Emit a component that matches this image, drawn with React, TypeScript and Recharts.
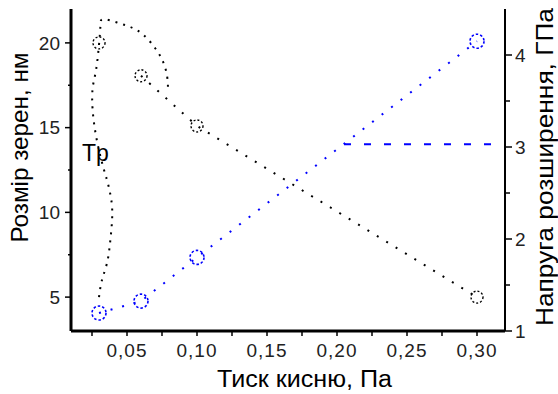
import React from 'react';
import { ComposedChart, Line, Scatter, XAxis, YAxis, ReferenceDot } from 'recharts';

// Grain size markers (left axis, nm)
const grainPoints = [
  { x: 0.03, y: 20.0 },
  { x: 0.06, y: 18.06 },
  { x: 0.10, y: 15.1 },
  { x: 0.30, y: 5.0 },
];
// Grain size trend line
const grainLine = [
  { x: 0.06, y: 18.06 },
  { x: 0.10, y: 15.1 },
  { x: 0.30, y: 5.0 },
];
// "Tp" boundary curve (left axis)
const tpCurve = [
  { x: 0.030, y: 5.0 },
  { x: 0.0321, y: 6.0 },
  { x: 0.0357, y: 7.0 },
  { x: 0.0379, y: 8.2 },
  { x: 0.0393, y: 9.5 },
  { x: 0.0390, y: 10.6 },
  { x: 0.0364, y: 11.7 },
  { x: 0.0336, y: 12.5 },
  { x: 0.0286, y: 14.2 },
  { x: 0.0255, y: 16.0 },
  { x: 0.0255, y: 17.35 },
  { x: 0.0279, y: 18.4 },
  { x: 0.0300, y: 19.9 },
  { x: 0.0310, y: 21.0 },
  { x: 0.0330, y: 21.4 },
  { x: 0.0429, y: 21.2 },
  { x: 0.0521, y: 20.95 },
  { x: 0.0614, y: 20.5 },
  { x: 0.0700, y: 19.7 },
  { x: 0.0757, y: 18.9 },
  { x: 0.0786, y: 18.06 },
  { x: 0.0793, y: 17.3 },
];
// Stress markers (right axis, GPa)
const stressPoints = [
  { x: 0.03, y: 1.195 },
  { x: 0.06, y: 1.325 },
  { x: 0.10, y: 1.8 },
  { x: 0.30, y: 4.15 },
];
const stressLine = [
  { x: 0.03, y: 1.195 },
  { x: 0.06, y: 1.325 },
  { x: 0.10, y: 1.8 },
  { x: 0.30, y: 4.15 },
];
const stressFlat = [
  { x: 0.205, y: 3.03 },
  { x: 0.32, y: 3.03 },
];

const xTicks = [0.025, 0.05, 0.075, 0.1, 0.125, 0.15, 0.175, 0.2, 0.225, 0.25, 0.275, 0.3];
const leftTicks = [5, 7.5, 10, 12.5, 15, 17.5, 20];
const rightTicks = [1, 1.5, 2, 2.5, 3, 3.5, 4];

const FONT = '"Liberation Sans", Arial, sans-serif';
const TICK_COLOR = '#222';
const BLUE = '#0000ff';

const fmtX = (v: number) => (Math.round(v * 1000) % 50 === 0 ? v.toFixed(2).replace('.', ',') : '');

const LeftTick = (props: any) => {
  const { x, y, payload } = props;
  const v = payload.value as number;
  const major = v % 5 === 0;
  const ax = x + 11;
  return (
    <g>
      <line x1={ax} x2={ax - (major ? 6 : 3)} y1={y} y2={y} stroke="#000" strokeWidth={1.5} />
      {major && (
        <text x={x} y={y} dy="0.355em" textAnchor="end" fontSize={19} fontFamily={FONT} fill={TICK_COLOR}>
          {v}
        </text>
      )}
    </g>
  );
};

const RightTick = (props: any) => {
  const { x, y, payload } = props;
  const v = payload.value as number;
  const major = Number.isInteger(v);
  const ax = x - 10;
  return (
    <g>
      <line x1={ax} x2={ax + (major ? 7 : 5)} y1={y} y2={y} stroke="#000" strokeWidth={1.5} />
      {major && (
        <text x={x} y={y} dy="0.355em" textAnchor="start" fontSize={19} fontFamily={FONT} fill={TICK_COLOR}>
          {v}
        </text>
      )}
    </g>
  );
};

const BlackCircle = (props: any) => (
  <circle cx={props.cx} cy={props.cy} r={6} fill="none" stroke="#000" strokeWidth={1.4} strokeDasharray="2 2" />
);
const BlueCircle = (props: any) => (
  <circle cx={props.cx} cy={props.cy} r={7} fill="none" stroke={BLUE} strokeWidth={1.6} strokeDasharray="2.5 2" />
);

const LeftLabel = (props: any) => {
  const vb = props.viewBox;
  const cx = vb.x + 20;
  const cy = vb.y + vb.height / 2 - 22.5;
  return (
    <text x={cx} y={cy} transform={`rotate(-90 ${cx} ${cy})`} textAnchor="middle" dominantBaseline="central" fontSize={23} fontFamily={FONT} fill="#000" textLength={190} lengthAdjust="spacingAndGlyphs">
      Розмір зерен, нм
    </text>
  );
};
const RightLabel = (props: any) => {
  const vb = props.viewBox;
  const cx = vb.x + 40;
  const cy = vb.y + vb.height / 2 - 3;
  return (
    <text x={cx} y={cy} transform={`rotate(-90 ${cx} ${cy})`} textAnchor="middle" dominantBaseline="central" fontSize={23} fontFamily={FONT} fill="#000" textLength={318} lengthAdjust="spacingAndGlyphs">
      Напруга розширення, ГПа
    </text>
  );
};
const BottomLabel = (props: any) => {
  const vb = props.viewBox;
  return (
    <text x={vb.x + vb.width / 2 + 16.5} y={vb.y + 56} textAnchor="middle" fontSize={23} fontFamily={FONT} fill="#000" textLength={175} lengthAdjust="spacingAndGlyphs">
      Тиск кисню, Па
    </text>
  );
};

const TpText = (props: any) => (
  <text x={props.cx} y={props.cy} fontSize={23} fontFamily={FONT} fill="#000">
    Tp
  </text>
);

export default function App() {
  return (
    <div style={{ position: 'absolute', left: 0, top: 0, background: '#fff' }}>
      <ComposedChart width={558} height={394} margin={{ top: 9, right: 0, bottom: 0, left: 0 }}>
        <XAxis
          xAxisId={0}
          type="number"
          dataKey="x"
          domain={[0.01, 0.32]}
          allowDataOverflow
          ticks={xTicks}
          tickFormatter={fmtX}
          interval={0}
          height={63}
          axisLine={{ stroke: '#000', strokeWidth: 3 }}
          tickLine={{ stroke: '#000', strokeWidth: 1.5 }}
          tickSize={5}
          tickMargin={8}
          tick={{ fontSize: 19, fontFamily: FONT, fill: TICK_COLOR, letterSpacing: 1 }}
          label={<BottomLabel />}
        />
        <XAxis
          xAxisId="top"
          orientation="top"
          type="number"
          dataKey="x"
          domain={[0.01, 0.32]}
          height={0}
          tick={false}
          tickLine={false}
          axisLine={{ stroke: '#000', strokeWidth: 2 }}
        />
        <YAxis
          yAxisId="left"
          type="number"
          domain={[3, 22]}
          allowDataOverflow
          ticks={leftTicks}
          interval={0}
          width={71}
          axisLine={{ stroke: '#000', strokeWidth: 3 }}
          tickLine={false}
          tickSize={5}
          tickMargin={6}
          tick={<LeftTick />}
          label={<LeftLabel />}
        />
        <YAxis
          yAxisId="right"
          orientation="right"
          type="number"
          domain={[1, 4.5]}
          allowDataOverflow
          ticks={rightTicks}
          interval={0}
          width={53}
          axisLine={{ stroke: '#000', strokeWidth: 2 }}
          tickLine={false}
          tickSize={6}
          tickMargin={4}
          tick={<RightTick />}
          label={<RightLabel />}
        />
        <Line yAxisId="left" data={tpCurve} dataKey="y" type="natural" stroke="#000" strokeWidth={2} strokeDasharray="2 6" dot={false} isAnimationActive={false} />
        <Line yAxisId="left" data={grainLine} dataKey="y" type="linear" stroke="#000" strokeWidth={2} strokeDasharray="2 9" dot={false} isAnimationActive={false} />
        <Line yAxisId="right" data={stressLine} dataKey="y" type="linear" stroke={BLUE} strokeWidth={2} strokeDasharray="2 10" dot={false} isAnimationActive={false} />
        <Line yAxisId="right" data={stressFlat} dataKey="y" type="linear" stroke={BLUE} strokeWidth={2} strokeDasharray="7 13" dot={false} isAnimationActive={false} />
        <Scatter yAxisId="left" data={grainPoints} dataKey="y" shape={<BlackCircle />} isAnimationActive={false} />
        <Scatter yAxisId="right" data={stressPoints} dataKey="y" shape={<BlueCircle />} isAnimationActive={false} />
        <ReferenceDot yAxisId="left" x={0.0179} y={13.05} r={0} shape={<TpText />} />
      </ComposedChart>
    </div>
  );
}
